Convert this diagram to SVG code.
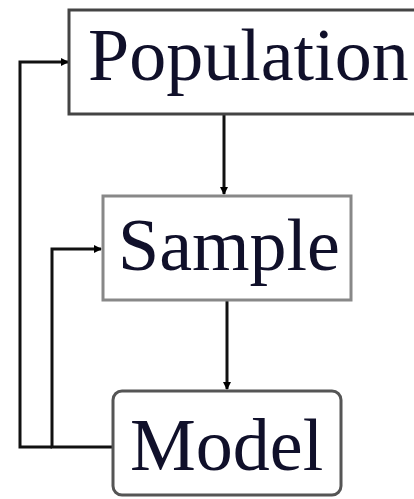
<svg xmlns="http://www.w3.org/2000/svg" width="414" height="499" viewBox="0 0 414 499">
  <style>
    .box { fill: #ffffff; stroke-width: 3; }
    .label { font-family: "Liberation Serif", "Times New Roman", serif; font-size: 74px; fill: #10102a; }
    .wire { fill: none; stroke: #111111; stroke-width: 3; }
  </style>
  <defs>
    <marker id="head" viewBox="0 0 8 8" refX="7" refY="4" markerWidth="8" markerHeight="8" markerUnits="userSpaceOnUse" orient="auto">
      <path d="M0,0 L8,4 L0,8 z" fill="#000000"/>
    </marker>
  </defs>

  <rect width="414" height="499" fill="#ffffff"/>

  <g id="connectors">
    <!-- Population down to Sample -->
    <line class="wire" x1="224" y1="114" x2="224" y2="194" marker-end="url(#head)"/>
    <!-- Sample down to Model -->
    <line class="wire" x1="227" y1="300" x2="227" y2="389" marker-end="url(#head)"/>
    <!-- Model feeds back to Population -->
    <polyline class="wire" points="52,447 20,447 20,62 68,62" marker-end="url(#head)" stroke="#444444" stroke-width="4"/>
    <!-- Model feeds back to Sample -->
    <polyline class="wire" points="113,447 52,447 52,249 101,249" marker-end="url(#head)"/>
  </g>

  <g id="population">
    <rect class="box" x="69" y="10" width="360" height="104" stroke="#444444"/>
    <text class="label" x="88" y="80">Population</text>
  </g>

  <g id="sample">
    <rect class="box" x="103" y="196" width="248" height="104" stroke="#888888"/>
    <text class="label" x="118" y="270">Sample</text>
  </g>

  <g id="model">
    <rect class="box" x="113" y="391" width="228" height="104" rx="9" stroke="#555555"/>
    <text class="label" x="130" y="470">Model</text>
  </g>
</svg>
